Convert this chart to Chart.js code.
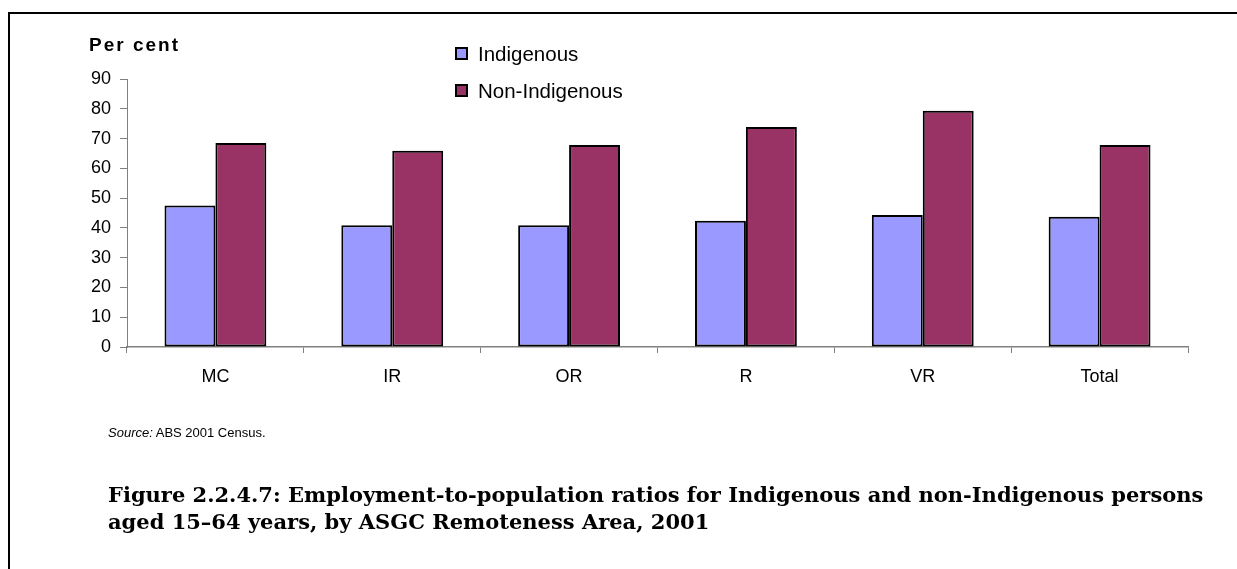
<!DOCTYPE html>
<html>
<head>
<meta charset="utf-8">
<script src="https://cdn.jsdelivr.net/npm/chart.js@4"></script>
<style>
  html, body { margin: 0; padding: 0; background: #fff; }
  #wrap { position: relative; width: 1237px; height: 569px; overflow: hidden; }
  #frame { position: absolute; left: 8px; top: 12px; width: 1300px; height: 600px;
           border-left: 2px solid #000; border-top: 2px solid #000; }
  canvas { position: absolute; left: 0; top: 0; }
  .txt { position: absolute; font-family: "Liberation Sans", Arial, sans-serif; color: #000; white-space: nowrap; }
  #ytitle { left: 89px; top: 34px; font-size: 19px; font-weight: bold; letter-spacing: 2px; }
  #legend { left: 455px; top: 35px; }
  .leg { display: flex; align-items: center; height: 37px; font-size: 20.5px; }
  .leg .box { width: 9px; height: 9px; border: 2px solid #000; margin-right: 10px; }
  #source { left: 108px; top: 425px; font-size: 13px; }
  #caption { position: absolute; left: 108px; top: 481px; font-family: "DejaVu Serif", serif;
             font-weight: bold; font-size: 21px; line-height: 27px; color: #000; white-space: nowrap; }
</style>
</head>
<body>
<div id="wrap">
  <div id="frame"></div>
  <canvas id="chart" width="1237" height="569"></canvas>
  <div class="txt" id="ytitle">Per cent</div>
  <div class="txt" id="legend"></div>
  <div class="txt" id="source"><i>Source:</i> ABS 2001 Census.</div>
  <div id="caption">Figure 2.2.4.7: Employment-to-population ratios for Indigenous and non-Indigenous persons<br>aged 15–64 years, by ASGC Remoteness Area, 2001</div>
</div>
<script>
// remoteness areas and employment-to-population ratios (%)
const areas = ['MC', 'IR', 'OR', 'R', 'VR', 'Total'];
const indigenous = [47.5, 40.9, 40.9, 42.4, 44.3, 43.7];
const nonIndigenous = [68.5, 65.9, 67.8, 73.9, 79.3, 67.8];
const yTicks = [0, 10, 20, 30, 40, 50, 60, 70, 80, 90];

const seriesNames = ['Indigenous', 'Non-Indigenous'];
const seriesColors = ['#9999FF', '#993366'];

const axisGrey = '#808080';
const tickFont = { family: '"Liberation Sans", Arial, sans-serif', size: 18 };

// legend built from the series
const legendEl = document.getElementById('legend');
seriesNames.forEach((name, i) => {
    const row = document.createElement('div');
    row.className = 'leg';
    row.innerHTML = '<span class="box" style="background:' + seriesColors[i] + '"></span>' + name;
    legendEl.appendChild(row);
});

const ctx = document.getElementById('chart').getContext('2d');
new Chart(ctx, {
    type: 'bar',
    data: {
        labels: areas,
        datasets: [
            { label: seriesNames[0], data: indigenous, backgroundColor: seriesColors[0] },
            { label: seriesNames[1], data: nonIndigenous, backgroundColor: seriesColors[1] }
        ]
    },
    options: {
        responsive: false,
        animation: false,
        events: [],
        datasets: {
            bar: {
                categoryPercentage: 0.576,
                barPercentage: 1.0,
                borderColor: '#000',
                borderWidth: 2,
                borderSkipped: false
            }
        },
        layout: { padding: { left: 0, top: 79, right: 49, bottom: 0 } },
        plugins: { legend: { display: false }, tooltip: { enabled: false } },
        scales: {
            x: {
                offset: true,
                afterFit: (s) => { s.height = 222; },
                grid: { offset: true, drawOnChartArea: false, drawTicks: true, tickLength: 6, color: axisGrey, lineWidth: 1 },
                border: { display: true, color: axisGrey, width: 1.5 },
                ticks: { color: '#000', font: tickFont, padding: 13 }
            },
            y: {
                min: 0,
                max: 90,
                afterFit: (s) => { s.width = 127; },
                afterBuildTicks: (s) => { s.ticks = yTicks.map(v => ({ value: v })); },
                grid: { drawOnChartArea: false, drawTicks: true, tickLength: 7, color: axisGrey, lineWidth: 1 },
                border: { display: true, color: axisGrey, width: 1 },
                ticks: { color: '#000', font: tickFont, padding: 9 }
            }
        }
    }
});
</script>
</body>
</html>
